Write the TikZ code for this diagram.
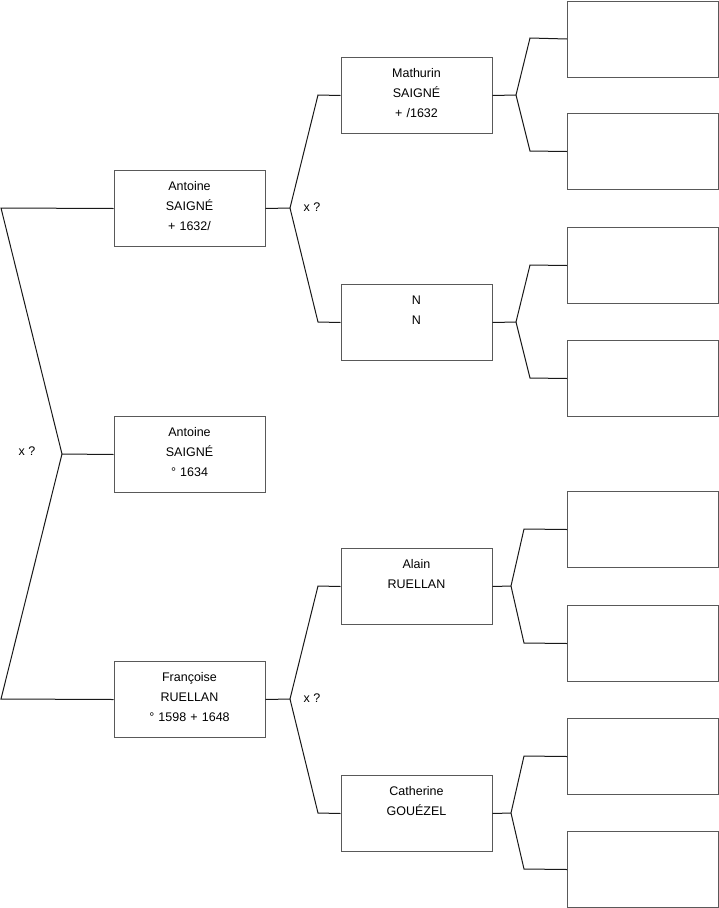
\documentclass[tikz,border=0pt]{standalone}
\usepackage{fontspec}
\setmainfont{Liberation Sans}
\begin{document}
\begin{tikzpicture}[x=1pt, y=-1pt,
    person/.style={rectangle, draw=black!65, line width=1pt, minimum width=151pt, text width=151pt, inner sep=0pt, align=center, text height=20pt, text depth=56pt, font=\fontsize{12.5}{20}\selectfont},
    link/.style={draw=black!90, line width=1pt},
    union/.style={font=\fontsize{12.5}{15}\selectfont, inner sep=0pt}]
    \useasboundingbox (0,0) rectangle (719,908);

    % Nodes (generation 1)
    \node (antoine) [person] at (189.5,170) [anchor=north] {Antoine\\SAIGNÉ\\+ 1632/};
    \node (child) [person] at (189.5,416) [anchor=north] {Antoine\\SAIGNÉ\\° 1634};
    \node (francoise) [person] at (189.5,661) [anchor=north] {Françoise\\RUELLAN\\° 1598 + 1648};

    % Nodes (generation 2)
    \node (mathurin) [person] at (416.5,57) [anchor=north] {Mathurin\\SAIGNÉ\\+ /1632};
    \node (nn) [person] at (416.5,284) [anchor=north] {N\\N};
    \node (alain) [person] at (416.5,548) [anchor=north] {Alain\\RUELLAN};
    \node (catherine) [person] at (416.5,775) [anchor=north] {Catherine\\GOUÉZEL};

    % Nodes (generation 3, empty)
    \node (m1) [person] at (643,0.5) [anchor=north] {};
    \node (m2) [person] at (643,113) [anchor=north] {};
    \node (n1) [person] at (643,227) [anchor=north] {};
    \node (n2) [person] at (643,340) [anchor=north] {};
    \node (a1) [person] at (643,491) [anchor=north] {};
    \node (a2) [person] at (643,605) [anchor=north] {};
    \node (c1) [person] at (643,718) [anchor=north] {};
    \node (c2) [person] at (643,831) [anchor=north] {};

    % Fork points
    \coordinate (forkchild) at (62,454);
    \coordinate (forkchildup) at (1,208);
    \coordinate (forkchilddown) at (1,699);
    \coordinate (forkantoine) at (290,208);
    \coordinate (forkantoineup) at (318,95);
    \coordinate (forkantoinedown) at (318,322);
    \coordinate (forkfrancoise) at (290,699);
    \coordinate (forkfrancoiseup) at (318,586);
    \coordinate (forkfrancoisedown) at (318,813);
    \coordinate (forkmathurin) at (516,95);
    \coordinate (forkmathurinup) at (530,38);
    \coordinate (forkmathurindown) at (530,151);
    \coordinate (forknn) at (516,322);
    \coordinate (forknnup) at (530,265);
    \coordinate (forknndown) at (530,378);
    \coordinate (forkalain) at (511,586);
    \coordinate (forkalainup) at (524,529);
    \coordinate (forkalaindown) at (524,643);
    \coordinate (forkcatherine) at (511,813);
    \coordinate (forkcatherineup) at (524,756);
    \coordinate (forkcatherinedown) at (524,869);

    % Links
    \draw[link] (antoine.west) -- (forkchildup) -- (forkchild) -- (child.west);
    \draw[link] (forkchild) -- (forkchilddown) -- (francoise.west);
    \draw[link] (antoine.east) -- (forkantoine) -- (forkantoineup) -- (mathurin.west);
    \draw[link] (forkantoine) -- (forkantoinedown) -- (nn.west);
    \draw[link] (francoise.east) -- (forkfrancoise) -- (forkfrancoiseup) -- (alain.west);
    \draw[link] (forkfrancoise) -- (forkfrancoisedown) -- (catherine.west);
    \draw[link] (mathurin.east) -- (forkmathurin) -- (forkmathurinup) -- (m1.west);
    \draw[link] (forkmathurin) -- (forkmathurindown) -- (m2.west);
    \draw[link] (nn.east) -- (forknn) -- (forknnup) -- (n1.west);
    \draw[link] (forknn) -- (forknndown) -- (n2.west);
    \draw[link] (alain.east) -- (forkalain) -- (forkalainup) -- (a1.west);
    \draw[link] (forkalain) -- (forkalaindown) -- (a2.west);
    \draw[link] (catherine.east) -- (forkcatherine) -- (forkcatherineup) -- (c1.west);
    \draw[link] (forkcatherine) -- (forkcatherinedown) -- (c2.west);

    % Marriage labels
    \node (xchild) [union] at (27,451) {x ?};
    \node (xantoine) [union] at (312,207) {x ?};
    \node (xfrancoise) [union] at (312,698) {x ?};
\end{tikzpicture}
\end{document}
